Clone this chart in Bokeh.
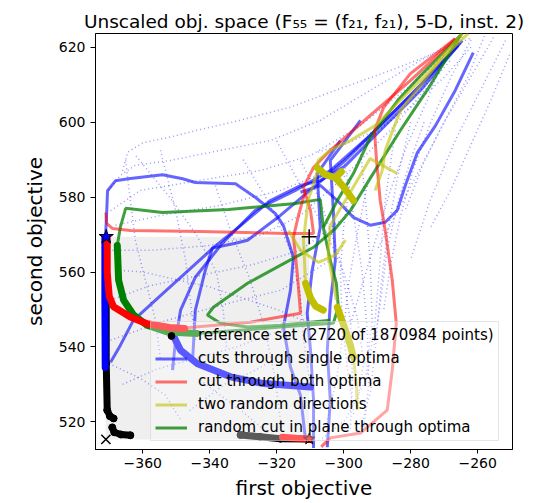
from bokeh.plotting import figure
from bokeh.models import Range1d, FixedTicker, Legend, LegendItem
from bokeh.embed import file_html
from bokeh.resources import INLINE

# ---------------- data ----------------
x_ticks = [-360, -340, -320, -300, -280, -260]
x_tick_labels = ["−360", "−340", "−320", "−300", "−280", "−260"]
y_ticks = [520, 540, 560, 580, 600, 620]
y_tick_labels = ["520", "540", "560", "580", "600", "620"]

ideal_pt = [-371.0, 515.3]
nadir_pt = [-310.3, 569.4]
opt1_pt = [-370.9, 569.4]
opt2_pt = [-310.3, 515.4]

# reference set (Pareto front approximation)
ref_x = [[-370.9, -370.9, -370.6, -369.8, -368.7],
         [-369.1, -368.5, -366.5, -363.7],
         [-330.8, -325.0, -318.9, -310.3]]
ref_y = [[560.0, 535.6, 523.1, 521.5, 520.9],
         [518.5, 517.2, 516.6, 516.4],
         [516.5, 516.0, 515.5, 515.4]]

# cuts through single optima (blue)
blue_x = [[-371.1, -370.8, -370.5, -368.1, -364.3, -354.1, -348.1, -344.3, -332.3, -326.3, -320.4, -318.0, -315.0, -315.9, -318.0, -315.9, -312.9, -311.4],
          [-261.3, -266.7, -272.6, -278.0, -281.6, -284.0, -287.6, -292.1, -297.1, -301.9, -306.9, -312.9],
          [-369.6, -366.7, -362.8, -354.7, -345.8, -338.9, -330.8, -321.9, -312.9, -307.0, -299.5, -289.1, -277.1, -264.6],
          [-351.1, -350.2, -348.7, -344.3, -336.2, -326.4, -314.4, -304.0, -292.1, -280.1, -265.2],
          [-345.1, -344.3, -341.3, -339.2, -332.3, -328.7, -318.9, -309.0, -299.5, -289.1, -277.1, -265.8],
          [-301.0, -307.9, -307.0, -309.4, -310.9, -309.9, -309.0, -309.0],
          [-295.0, -299.5, -304.0, -303.1, -302.5, -304.0, -304.9, -304.0, -304.9]]
blue_y = [[569.5, 575.1, 581.7, 584.4, 584.9, 586.0, 584.9, 583.9, 583.6, 579.9, 575.6, 572.4, 563.9, 555.1, 545.3, 534.6, 527.1, 515.2],
          [618.6, 608.5, 599.1, 591.9, 583.1, 576.5, 573.3, 572.5, 574.6, 579.1, 583.1, 581.3],
          [535.9, 540.4, 547.1, 553.7, 560.9, 566.5, 572.4, 579.1, 583.1, 584.4, 588.4, 597.8, 608.5, 621.8],
          [533.8, 541.8, 549.8, 558.6, 567.7, 576.5, 581.8, 587.1, 596.5, 607.1, 621.3],
          [536.5, 549.8, 560.5, 566.4, 567.7, 568.5, 575.1, 582.6, 589.8, 599.1, 609.8, 620.5],
          [595.1, 586.3, 571.9, 560.5, 549.0, 539.1, 525.8, 513.0],
          [600.5, 595.1, 589.8, 576.5, 563.1, 551.6, 539.1, 525.8, 513.2]]
blue_thick_x = [[-371.3, -371.3, -371.2],
                [-351.2, -348.7, -343.8, -333.8, -323.9, -309.9]]
blue_thick_y = [[569.3, 552.0, 534.5],
                [543.6, 539.1, 535.6, 532.0, 530.2, 529.3]]

# other cuts (dotted blue)
dotted_x = [[-370.2, -366.7, -362.2, -351.7, -336.8, -321.9, -307.0, -292.1, -277.1, -263.7],
            [-369.6, -360.7, -342.8, -324.9, -309.9, -295.0, -280.1, -266.7],
            [-368.1, -354.7, -336.8, -318.9, -304.0, -289.1, -271.2],
            [-370.2, -357.7, -339.8, -324.9, -312.9, -301.0, -286.1, -268.2],
            [-365.1, -363.7, -362.2, -359.2, -356.2, -354.7],
            [-354.7, -350.2, -347.2, -345.8, -344.3],
            [-338.3, -333.8, -327.9, -323.4, -320.4, -318.9],
            [-312.9, -307.0, -301.0, -298.0, -297.4, -298.0],
            [-295.0, -293.5, -292.1, -291.5, -293.5, -299.5, -307.0],
            [-284.6, -287.6, -289.1, -290.6, -293.0],
            [-369.6, -357.7, -342.8, -327.9, -312.9, -301.0],
            [-369.6, -354.7, -336.8, -318.9, -304.0],
            [-255.3, -262.2, -270.3, -276.2, -281.6],
            [-251.7, -259.2, -266.7, -274.2, -280.1],
            [-369.0, -360.7, -353.2, -348.7],
            [-342.8, -330.8, -321.9],
            [-366.0, -364.5, -360.0, -352.0, -343.0, -331.0, -316.0, -301.0, -287.0, -274.0, -262.0],
            [-362.0, -352.0, -344.0, -338.0, -336.0, -335.0],
            [-330.0, -322.0, -316.0, -313.0, -312.0, -310.0],
            [-320.0, -314.0, -306.0, -300.0, -296.0, -294.0, -296.0],
            [-270.0, -275.0, -281.0, -286.0, -290.0, -294.0, -298.0],
            [-258.0, -263.0, -270.0, -277.0, -284.0, -290.0],
            [-366.0, -356.0, -344.0, -332.0, -320.0, -310.0],
            [-346.0, -340.0, -334.0, -328.0, -322.0],
            [-368.0, -360.0, -350.0, -340.0, -330.0, -320.0, -312.0],
            [-300.0, -297.0, -294.5, -293.0, -292.5, -294.0],
            [-280.0, -284.0, -287.0, -289.0, -290.5, -292.0, -295.0],
            [-262.0, -270.0, -280.0, -290.0, -300.0, -308.0],
            [-276.0, -280.0, -284.0, -287.0, -289.0, -291.0],
            [-262.0, -268.0, -274.0, -279.0, -283.0, -286.0, -288.0],
            [-298.0, -300.0, -301.0, -300.5, -299.0, -297.0],
            [-293.0, -296.0, -298.5, -300.0, -302.0, -305.0],
            [-250.5, -256.0, -262.0, -268.0, -274.0]]
dotted_y = [[581.8, 585.8, 588.5, 589.8, 592.5, 595.1, 600.5, 608.5, 616.5, 623.1],
            [576.4, 581.8, 584.5, 587.1, 591.1, 599.1, 609.8, 620.5],
            [572.5, 575.1, 577.8, 581.8, 587.1, 597.8, 613.8],
            [565.8, 565.8, 567.1, 569.8, 575.1, 584.5, 597.8, 616.5],
            [589.8, 579.1, 568.5, 557.8, 547.1, 536.5],
            [592.5, 576.5, 563.1, 552.5, 541.8],
            [583.1, 571.1, 557.8, 544.5, 531.1, 520.5],
            [589.8, 579.1, 563.1, 547.1, 531.1, 517.8],
            [592.5, 579.1, 563.1, 547.1, 531.1, 520.5, 515.1],
            [597.8, 579.1, 563.1, 547.1, 532.0],
            [552.5, 556.4, 559.1, 561.8, 565.8, 573.8],
            [541.8, 546.6, 551.1, 555.1, 563.1],
            [622.6, 611.9, 599.6, 589.0, 576.5],
            [621.8, 608.5, 595.1, 579.1, 563.1],
            [535.1, 531.6, 527.1, 520.5],
            [531.1, 523.1, 516.5],
            [587.0, 592.0, 594.5, 596.0, 598.0, 600.5, 604.0, 609.0, 613.5, 618.0, 622.5],
            [591.0, 580.0, 570.0, 560.0, 550.0, 540.0],
            [590.0, 578.0, 566.0, 554.0, 542.0, 530.0],
            [595.0, 585.0, 572.0, 560.0, 548.0, 536.0, 525.0],
            [618.0, 606.0, 594.0, 582.0, 570.0, 558.0, 546.0],
            [623.0, 612.0, 600.0, 588.0, 576.0, 566.0],
            [530.0, 534.0, 537.0, 540.0, 544.0, 548.0],
            [523.0, 527.0, 531.0, 533.0, 536.0],
            [560.5, 560.0, 558.0, 556.0, 553.0, 550.0, 547.0],
            [590.0, 575.0, 560.0, 545.0, 530.0, 518.0],
            [600.0, 585.0, 570.0, 555.0, 540.0, 528.0, 518.0],
            [620.0, 612.0, 604.0, 598.0, 594.0, 592.0],
            [600.0, 590.0, 578.0, 566.0, 552.0, 540.0],
            [622.0, 612.0, 600.0, 588.0, 575.0, 562.0, 550.0],
            [585.0, 572.0, 560.0, 548.0, 535.0, 522.0],
            [583.0, 570.0, 557.0, 545.0, 532.0, 520.0],
            [618.0, 606.0, 594.0, 582.0, 572.0]]

# cut through both optima (red)
red_x = [[-371.0, -370.8, -369.0, -363.7, -342.8, -316.8, -309.0, -309.9, -312.0, -309.0, -304.0, -292.1, -280.1, -266.7],
         [-348.7, -327.9, -312.9, -313.8, -315.0, -313.5, -311.4],
         [-266.7, -280.1, -288.1, -290.8, -290.2, -289.1, -287.6, -285.5, -284.3, -285.5, -287.0, -295.0, -304.0, -306.7]]
red_y = [[575.9, 573.0, 571.6, 571.1, 570.8, 570.3, 570.3, 576.4, 582.6, 587.9, 592.5, 601.8, 611.1, 622.3],
         [545.0, 546.6, 549.0, 559.1, 569.3, 575.1, 581.8],
         [622.3, 613.0, 603.9, 597.8, 589.8, 579.1, 571.1, 557.8, 546.3, 533.8, 523.1, 517.0, 515.7, 513.3]]
red_thick_x = [[-370.6, -370.6, -370.0, -368.7, -363.7, -358.7, -352.0, -347.5],
               [-318.3, -314.4, -310.3]]
red_thick_y = [[569.0, 560.0, 553.5, 550.7, 548.0, 546.2, 545.2, 544.9],
               [515.9, 515.6, 515.4]]

# two random directions (yellow)
yellow_x = [[-264.6, -274.2, -283.1, -290.6, -298.0, -304.0, -307.6, -307.9],
            [-262.8, -271.2, -277.1, -283.1, -287.6, -288.5, -290.6],
            [-307.6, -310.6, -312.0, -311.4],
            [-302.2, -304.6, -304.0, -299.5, -292.1, -284.0],
            [-297.1, -296.2, -295.9],
            [-316.5, -312.9, -307.6, -302.5, -299.5]]
yellow_y = [[623.7, 613.8, 605.8, 599.1, 595.1, 592.5, 589.8, 587.9],
            [623.7, 616.5, 609.8, 603.1, 592.5, 587.1, 581.8],
            [587.6, 579.1, 568.5, 557.0],
            [552.5, 564.5, 572.5, 579.1, 590.3, 586.3],
            [537.3, 529.8, 523.1],
            [571.1, 565.8, 562.6, 564.5, 568.5]]
yellow_thick_x = [[-311.4, -309.9, -308.4, -306.1],
                  [-301.9, -299.5, -298.0, -297.1],
                  [-307.9, -305.5, -302.5, -300.1, -297.1],
                  [-302.5, -300.7]]
yellow_thick_y = [[557.0, 553.0, 550.9, 549.8],
                  [550.6, 544.5, 540.4, 537.3],
                  [587.9, 586.0, 585.2, 582.8, 579.1],
                  [585.2, 586.8]]

# random cut in plane through optima (green)
green_x = [[-343.8, -326.9, -318.9, -303.1, -301.6, -302.2, -304.0, -306.1, -307.0, -314.4, -334.4, -354.1, -365.1, -366.7, -367.6],
           [-304.0, -318.9, -328.7, -336.8, -340.7, -338.9, -328.7, -309.0, -302.5, -298.0, -292.1, -283.1, -274.2, -265.2],
           [-264.6, -277.1, -283.9, -292.1, -297.1, -301.9, -306.1]]
green_y = [[543.6, 544.7, 545.3, 546.3, 550.6, 557.0, 563.1, 571.9, 579.4, 578.3, 576.7, 575.9, 577.0, 571.9, 567.1],
           [547.1, 545.8, 545.3, 546.3, 548.5, 550.6, 557.0, 566.6, 571.6, 576.4, 585.0, 597.8, 609.8, 623.1],
           [623.7, 612.4, 605.8, 595.9, 586.3, 579.1, 571.9]]
green_thick_x = [[-367.6, -367.2, -365.7, -362.7, -358.7, -352.7, -343.8]]
green_thick_y = [[567.1, 557.8, 552.5, 548.5, 545.8, 544.0, 543.6]]

legend_labels = ["reference set (2720 of 1870984 points)",
                 "cuts through single optima",
                 "cut through both optima",
                 "two random directions",
                 "random cut in plane through optima"]

# ---------------- figure ----------------
p = figure(width=556, height=503,
           x_range=Range1d(-374.1, -249.6), y_range=Range1d(512.6, 623.7),
           output_backend="svg", toolbar_location=None,
           min_border_left=95, min_border_right=44,
           min_border_top=33, min_border_bottom=54,
           title="Unscaled obj. space (F₅₅ = (f₂₁, f₂₁), 5-D, inst. 2)")

p.title.text_font = "DejaVu Sans"
p.title.text_font_size = "18.5px"
p.title.text_font_style = "normal"
p.title.text_color = "black"
p.title.align = "center"
p.title.standoff = 3

p.xgrid.visible = False
p.ygrid.visible = False
p.outline_line_color = "black"
p.outline_line_width = 1
p.background_fill_color = "white"
p.border_fill_color = "white"

for ax, ticks, labels, name in [(p.xaxis[0], x_ticks, x_tick_labels, "first objective"),
                                (p.yaxis[0], y_ticks, y_tick_labels, "second objective")]:
    ax.ticker = FixedTicker(ticks=ticks)
    ax.major_label_overrides = dict(zip(ticks, labels))
    ax.axis_label = name
    ax.axis_label_text_font = "DejaVu Sans"
    ax.axis_label_text_font_size = "20px"
    ax.axis_label_text_font_style = "normal"
    ax.axis_label_text_color = "black"
    ax.major_label_text_font = "DejaVu Sans"
    ax.major_label_text_font_size = "14px"
    ax.major_label_text_color = "black"
    ax.major_tick_in = 0
    ax.minor_tick_out = 0
    ax.minor_tick_in = 0
    ax.axis_line_color = "black"
    ax.major_tick_line_color = "black"

p.xaxis.major_tick_out = 4
p.xaxis.major_label_standoff = 4
p.xaxis.axis_label_standoff = 5
p.yaxis.major_tick_out = 5
p.yaxis.major_label_standoff = 5
p.yaxis.axis_label_standoff = 9

# grey box between ideal and nadir point
p.quad(left=[ideal_pt[0]], right=[nadir_pt[0]], bottom=[ideal_pt[1]], top=[nadir_pt[1]],
       fill_color="#efefef", line_color=None)

# dotted cuts
p.multi_line(dotted_x, dotted_y, line_color="blue", line_alpha=0.4,
             line_width=1.5, line_dash="1 3")

# reference set
p.multi_line(ref_x, ref_y, line_color="black", line_width=7, line_cap="round", line_join="round")
ref_pts_x = [v for seg in ref_x for v in seg]
ref_pts_y = [v for seg in ref_y for v in seg]
r_ref = p.scatter(ref_pts_x, ref_pts_y, marker="circle", size=7, color="black")

# blue cuts
r_blue = p.multi_line(blue_x, blue_y, line_color="blue", line_alpha=0.6, line_width=3)
p.multi_line(blue_thick_x, blue_thick_y, line_color="blue", line_width=7, line_cap="round")

# green
r_green = p.multi_line(green_x, green_y, line_color="green", line_alpha=0.75, line_width=3)
p.multi_line(green_thick_x, green_thick_y, line_color="green", line_width=7, line_cap="round")

# red
r_red = p.multi_line(red_x, red_y, line_color="red", line_alpha=0.55, line_width=3)
p.multi_line(red_thick_x, red_thick_y, line_color="red", line_width=7, line_cap="round")

# yellow
r_yellow = p.multi_line(yellow_x, yellow_y, line_color="#bfbf00", line_alpha=0.6, line_width=3)
p.multi_line(yellow_thick_x, yellow_thick_y, line_color="#bfbf00", line_width=7, line_cap="round")

# special points
p.scatter([opt1_pt[0]], [opt1_pt[1]], marker="star", size=15, fill_color="blue",
          line_color="black", line_width=1)
p.scatter([opt2_pt[0]], [opt2_pt[1]], marker="star", size=12, fill_color="red",
          line_color="black", line_width=1)
p.scatter([nadir_pt[0]], [nadir_pt[1]], marker="cross", size=15, line_color="black", line_width=1.5)
p.scatter([ideal_pt[0]], [ideal_pt[1]], marker="x", size=13, line_color="black", line_width=1.5)

legend = Legend(items=[LegendItem(label=legend_labels[0], renderers=[r_ref]),
                       LegendItem(label=legend_labels[1], renderers=[r_blue]),
                       LegendItem(label=legend_labels[2], renderers=[r_red]),
                       LegendItem(label=legend_labels[3], renderers=[r_yellow]),
                       LegendItem(label=legend_labels[4], renderers=[r_green])],
                location=(55, 8), margin=0, padding=4, spacing=5,
                glyph_width=32, glyph_height=17, label_height=17, label_standoff=11,
                label_text_font="DejaVu Sans", label_text_font_size="15px",
                label_text_color="black",
                background_fill_color="white", background_fill_alpha=0.35,
                border_line_color="#cccccc", border_line_width=1)
p.add_layout(legend)

open("out.html", "w").write(file_html(p, INLINE))
